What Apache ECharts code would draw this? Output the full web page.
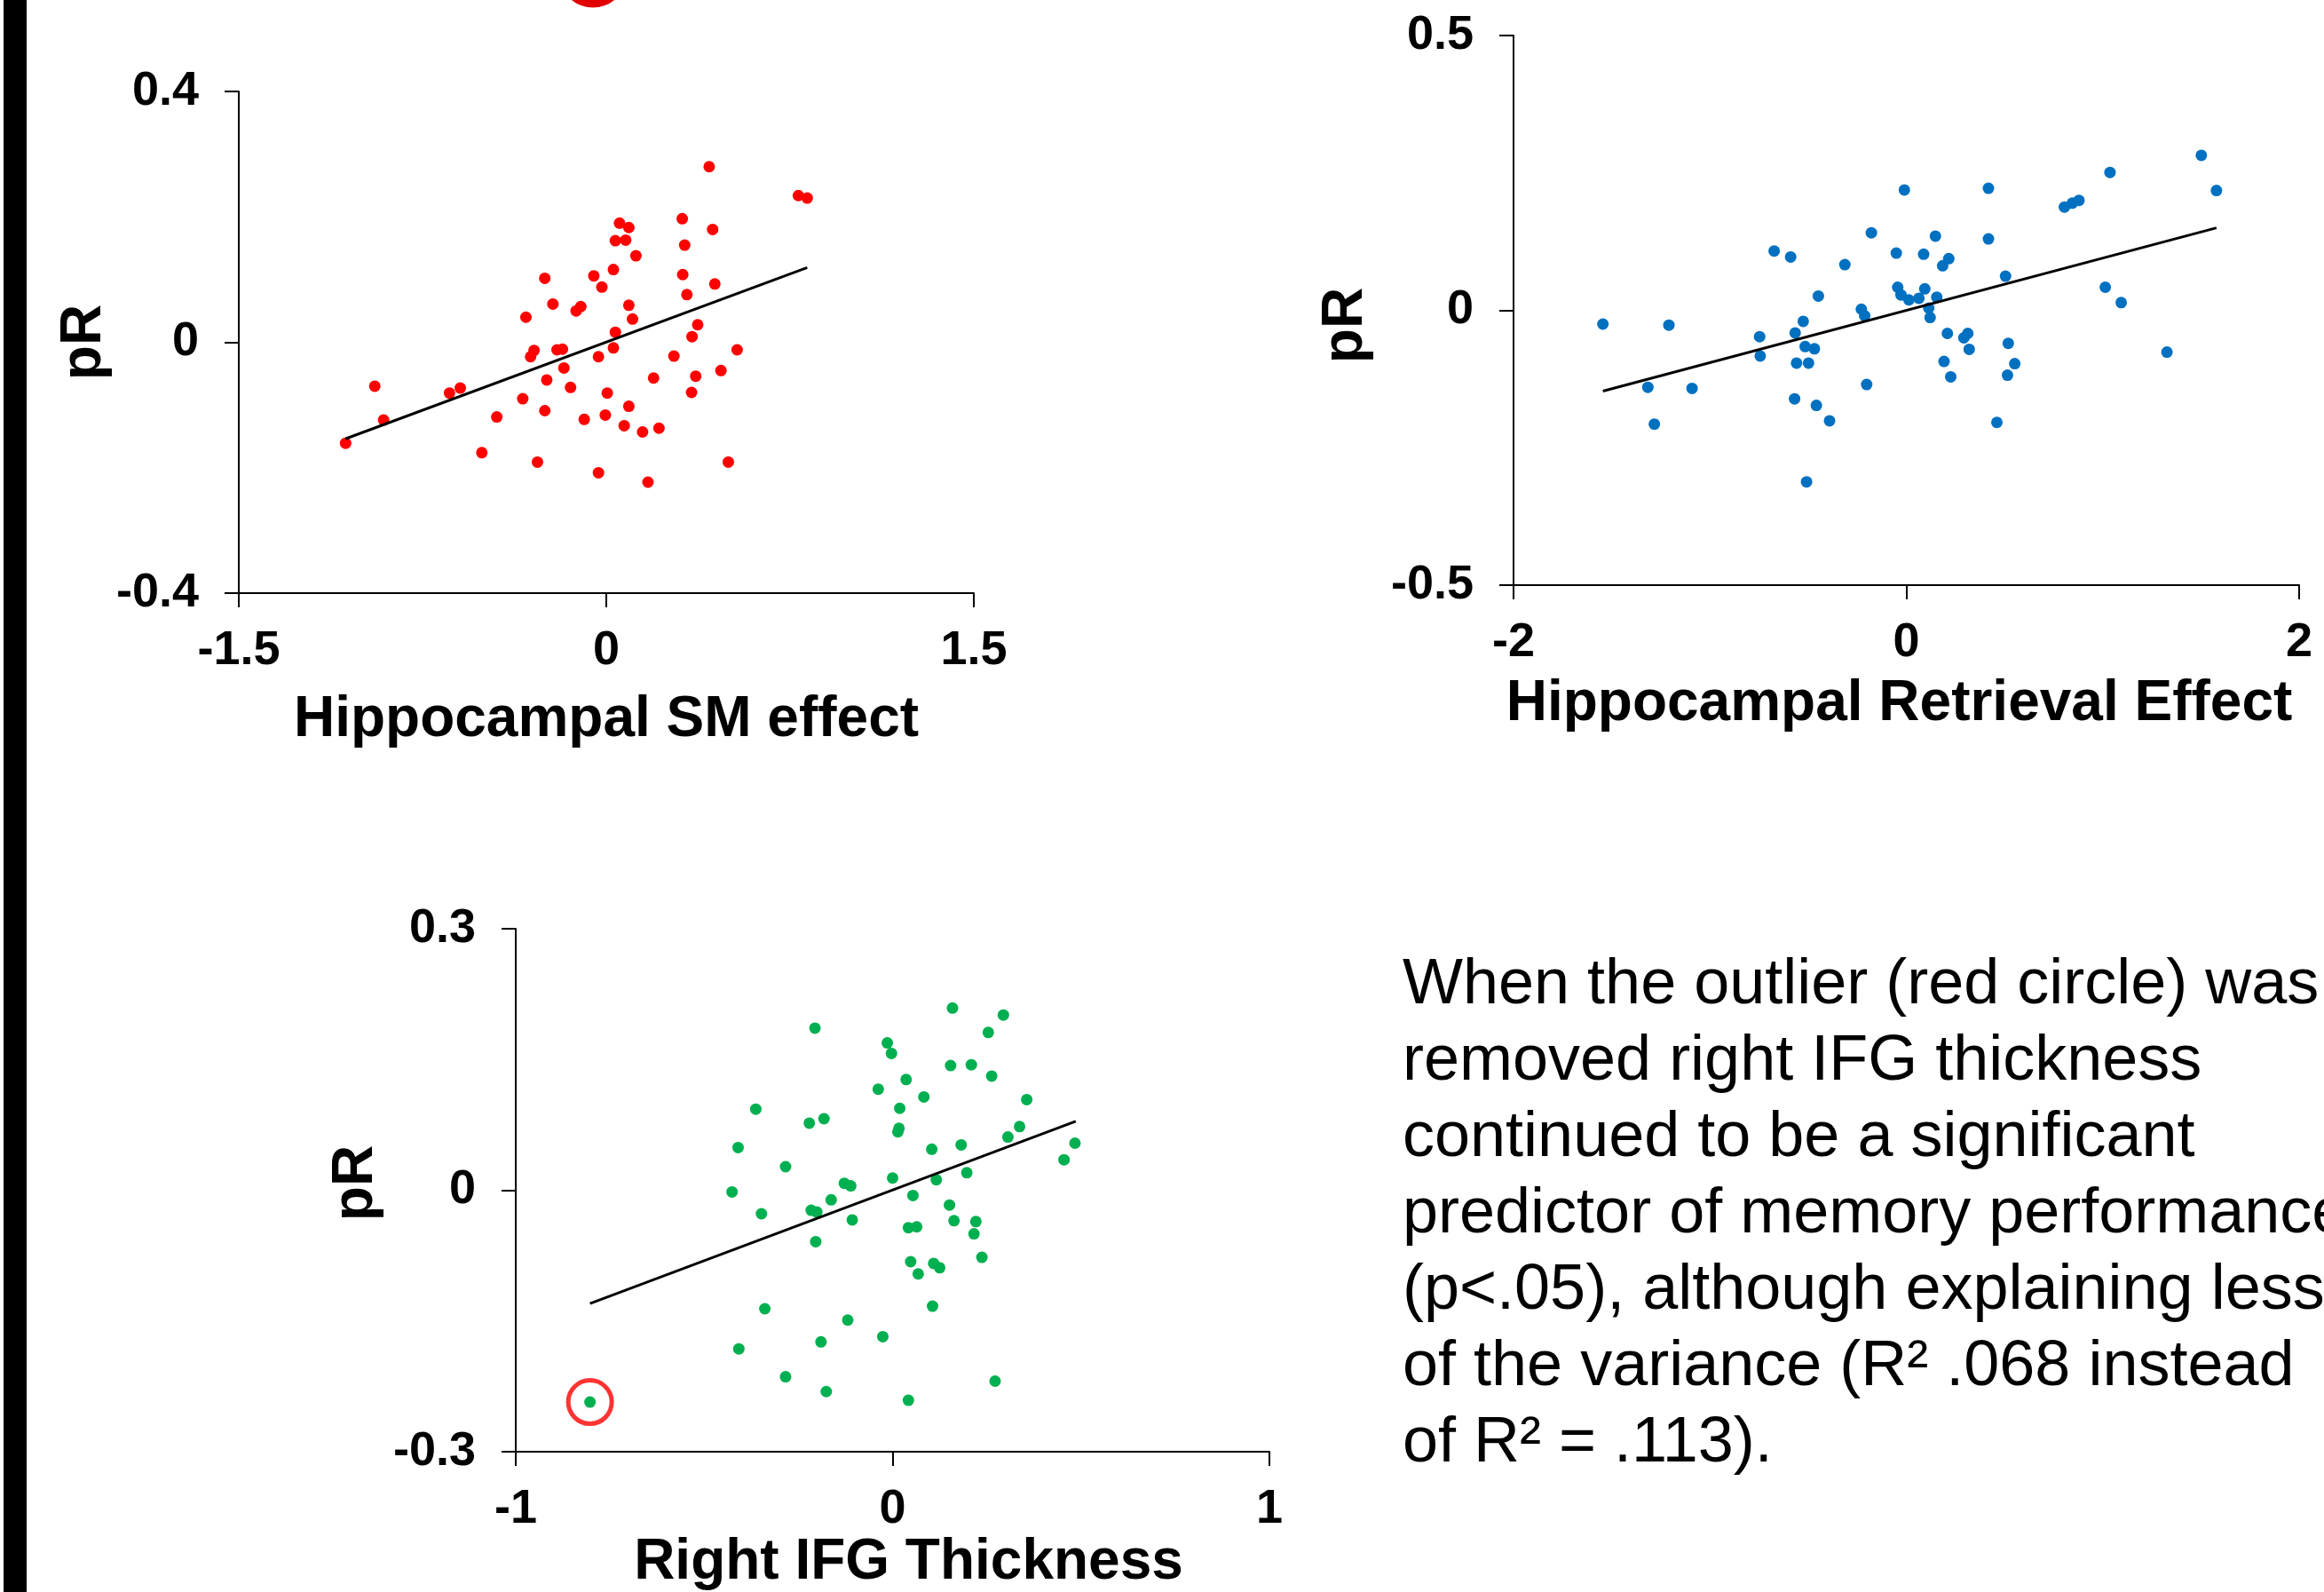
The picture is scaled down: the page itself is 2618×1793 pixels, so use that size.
<!DOCTYPE html>
<html>
<head>
<meta charset="utf-8">
<script src="https://cdn.jsdelivr.net/npm/echarts@6/dist/echarts.min.js"></script>
<style>
  html, body { margin: 0; padding: 0; background: #fff; }
  #chart { width: 2618px; height: 1793px; }
</style>
</head>
<body>
<div id="chart"></div>
<script>
// hippocampal SM effect vs pR (red)
var smX = [-1.064, -0.945, -0.909, -0.640, -0.596, -0.508, -0.447, -0.341, -0.328, -0.309,
  -0.295, -0.251, -0.251, -0.243, -0.281, -0.218, -0.201, -0.179, -0.173, -0.146,
  -0.123, -0.104, -0.090, -0.051, -0.032, -0.032, -0.018, -0.004, 0.004, 0.029,
  0.029, 0.037, 0.037, 0.054, 0.079, 0.092, 0.092, 0.092, 0.107, 0.121,
  0.073, 0.148, 0.170, 0.193, 0.215, 0.276, 0.310, 0.312, 0.320, 0.329,
  0.348, 0.350, 0.365, 0.373, 0.420, 0.434, 0.443, 0.468, 0.498, 0.534,
  0.784, 0.820];
var smY = [-0.161, -0.070, -0.124, -0.081, -0.073, -0.176, -0.119, -0.090, 0.040, -0.023,
  -0.013, 0.102, -0.109, -0.060, -0.191, 0.061, -0.012, -0.011, -0.041, -0.072,
  0.050, 0.057, -0.123, 0.106, -0.023, -0.208, 0.088, -0.116, -0.081, 0.116,
  -0.009, 0.016, 0.162, 0.190, 0.163, 0.183, 0.059, -0.102, 0.037, 0.138,
  -0.133, -0.143, -0.223, -0.057, -0.137, -0.022, 0.197, 0.108, 0.155, 0.076,
  -0.080, 0.009, -0.054, 0.028, 0.280, 0.180, 0.093, -0.045, -0.191, -0.012,
  0.234, 0.230];
var smFitX = [-1.065, 0.82];
var smFitY = [-0.154, 0.119];

// hippocampal retrieval effect vs pR (blue)
var retX = [-1.545, -1.316, -1.283, -1.209, -1.091, -0.747, -0.744, -0.673, -0.589, -0.566,
  -0.569, -0.559, -0.525, -0.515, -0.498, -0.468, -0.458, -0.448, -0.391, -0.508,
  -0.313, -0.229, -0.212, -0.202, -0.178, -0.051, -0.044, -0.027, -0.010, 0.013,
  0.064, 0.088, 0.094, 0.114, 0.121, 0.148, 0.155, 0.185, 0.192, 0.209,
  0.216, 0.226, 0.293, 0.313, 0.320, 0.418, 0.418, 0.461, 0.505, 0.515,
  0.519, 0.552, 0.805, 0.845, 0.879, 1.013, 1.037, 1.094, 1.327, 1.502,
  1.579];
var retY = [-0.025, -0.140, -0.207, -0.027, -0.142, -0.048, -0.083, 0.108, 0.097, -0.041,
  -0.161, -0.096, -0.020, -0.066, -0.096, -0.070, -0.173, 0.026, -0.201, -0.312,
  0.083, 0.002, -0.010, -0.135, 0.141, 0.104, 0.042, 0.028, 0.219, 0.019,
  0.022, 0.102, 0.039, 0.004, -0.013, 0.135, 0.024, 0.081, -0.093, -0.042,
  0.094, -0.121, -0.050, -0.042, -0.071, 0.222, 0.130, -0.204, 0.062, -0.118,
  -0.060, -0.097, 0.188, 0.195, 0.200, 0.042, 0.251, 0.014, -0.076, 0.282,
  0.218];
var retFitX = [-1.545, 1.579];
var retFitY = [-0.147, 0.150];

// right IFG thickness vs pR (green), first point is the outlier
var ifgX = [-0.803, -0.426, -0.410, -0.408, -0.363, -0.348, -0.339, -0.284, -0.284, -0.221,
  -0.216, -0.206, -0.204, -0.201, -0.190, -0.182, -0.176, -0.163, -0.128, -0.119,
  -0.111, -0.107, -0.038, -0.026, -0.014, -0.003, 0.000, 0.014, 0.017, 0.019,
  0.036, 0.042, 0.042, 0.048, 0.054, 0.064, 0.068, 0.083, 0.104, 0.106,
  0.109, 0.116, 0.125, 0.151, 0.154, 0.159, 0.163, 0.182, 0.197, 0.209,
  0.216, 0.221, 0.237, 0.254, 0.263, 0.272, 0.294, 0.306, 0.337, 0.356,
  0.455, 0.484];
var ifgY = [-0.243, -0.002, 0.049, -0.182, 0.093, -0.027, -0.136, 0.027, -0.214, 0.077,
  -0.023, 0.186, -0.059, -0.025, -0.174, 0.082, -0.231, -0.011, 0.008, -0.149,
  0.005, -0.034, 0.116, -0.168, 0.169, 0.157, 0.014, 0.067, 0.071, 0.094,
  0.127, -0.043, -0.241, -0.082, -0.006, -0.042, -0.096, 0.107, 0.047, -0.133,
  -0.084, 0.012, -0.089, -0.017, 0.143, 0.209, -0.035, 0.052, 0.020, 0.144,
  -0.050, -0.036, -0.077, 0.181, 0.131, -0.219, 0.201, 0.061, 0.073, 0.104,
  0.035, 0.054];
var ifgFitX = [-0.803, 0.486];
var ifgFitY = [-0.130, 0.079];
var outlierIndex = 0;

var noteLines = [
  "When the outlier (red circle) was",
  "removed right IFG thickness",
  "continued to be a significant",
  "predictor of memory performance",
  "(p<.05), although explaining less",
  "of the variance (R\u00b2 .068 instead",
  "of R\u00b2 = .113)."
];

var FONT = '"Liberation Sans", Arial, sans-serif';

function pairs(xs, ys) {
  return xs.map(function (x, i) { return [x, ys[i]]; });
}

function xAxisFor(grid, min, max, step, gap, pad) {
  return {
    type: "value", gridIndex: grid, min: min, max: max, interval: step,
    position: "bottom",
    name: ["Hippocampal SM effect", "Hippocampal Retrieval Effect", "Right IFG Thickness"][grid],
    nameLocation: "middle", nameGap: gap,
    nameTextStyle: { fontFamily: FONT, fontSize: 64, fontWeight: "bold", color: "#000", padding: pad },
    axisLine: { show: true, onZero: false, lineStyle: { color: "#000", width: 2 } },
    axisTick: { show: true, inside: false, length: 16, lineStyle: { color: "#000", width: 2 } },
    axisLabel: { fontFamily: FONT, fontSize: 54, fontWeight: "bold", color: "#000", margin: 38 },
    splitLine: { show: false }
  };
}

function yAxisFor(grid, min, max, step, gap, pad) {
  return {
    type: "value", gridIndex: grid, min: min, max: max, interval: step,
    position: "left",
    name: "pR", nameLocation: "middle", nameRotate: 90, nameGap: gap,
    nameTextStyle: { fontFamily: FONT, fontSize: 64, fontWeight: "bold", color: "#000", padding: pad },
    axisLine: { show: true, onZero: false, lineStyle: { color: "#000", width: 2 } },
    axisTick: { show: true, inside: false, length: 16, lineStyle: { color: "#000", width: 2 } },
    axisLabel: { fontFamily: FONT, fontSize: 54, fontWeight: "bold", color: "#000", margin: 45 },
    splitLine: { show: false }
  };
}

function dots(grid, xs, ys, color) {
  return {
    type: "scatter", xAxisIndex: grid, yAxisIndex: grid,
    data: pairs(xs, ys), symbol: "circle", symbolSize: 13,
    itemStyle: { color: color, opacity: 1 }, z: 2
  };
}

function fit(grid, xs, ys) {
  return {
    type: "line", xAxisIndex: grid, yAxisIndex: grid,
    data: pairs(xs, ys), symbol: "none",
    lineStyle: { color: "#000", width: 3 }, z: 3
  };
}

var chart = echarts.init(document.getElementById("chart"));
var option = {
  animation: false,
  backgroundColor: "#fff",
  grid: [
    { left: 269, top: 103, width: 828, height: 565 },
    { left: 1705, top: 40, width: 885, height: 619 },
    { left: 581, top: 1046, width: 849, height: 589 }
  ],
  xAxis: [
    xAxisFor(0, -1.5, 1.5, 1.5, 111, 0),
    xAxisFor(1, -2, 2, 2, 102, [0, 16, 0, 0]),
    xAxisFor(2, -1, 1, 1, 91, [0, 0, 0, 36])
  ],
  yAxis: [
    yAxisFor(0, -0.4, 0.4, 0.4, 134, 0),
    yAxisFor(1, -0.5, 0.5, 0.5, 157, [0, 34, 0, 0]),
    yAxisFor(2, -0.3, 0.3, 0.3, 148, [0, 0, 0, 16])
  ],
  series: [
    dots(0, smX, smY, "#FF0000"),
    fit(0, smFitX, smFitY),
    dots(1, retX, retY, "#0070C0"),
    fit(1, retFitX, retFitY),
    dots(2, ifgX, ifgY, "#00B050"),
    fit(2, ifgFitX, ifgFitY),
    {
      type: "scatter", xAxisIndex: 2, yAxisIndex: 2,
      data: [[ifgX[outlierIndex], ifgY[outlierIndex]]],
      symbol: "circle", symbolSize: 49,
      itemStyle: { color: "rgba(0,0,0,0)", borderColor: "#FF0000", borderWidth: 5 },
      z: 4
    }
  ],
  graphic: [
    { type: "rect", shape: { x: 4, y: 0, width: 26, height: 1793 }, style: { fill: "#000" } },
    { type: "circle", shape: { cx: 668, cy: -30, r: 34 }, style: { fill: "none", stroke: "#E00000", lineWidth: 9 } },
    {
      type: "text", x: 1580, y: 1067,
      style: {
        text: noteLines.join("\n"), fontFamily: FONT, fontSize: 72,
        lineHeight: 86, fill: "#000", verticalAlign: "top"
      }
    }
  ]
};
chart.setOption(option);
</script>
</body>
</html>
